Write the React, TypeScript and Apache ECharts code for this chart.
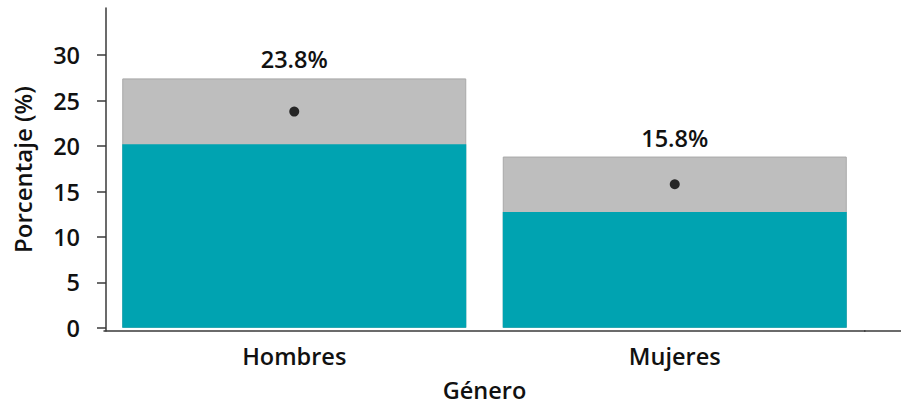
import React, { useEffect, useRef } from "react";
import * as echarts from "echarts";

const categories = ["Hombres", "Mujeres"];
const lowerValues = [20.2, 12.75];
const upperValues = [27.45, 18.85];
const estimates = [23.8, 15.8];
const yTicks = [0, 5, 10, 15, 20, 25, 30];

const FONT = "'Open Sans', 'Noto Sans', sans-serif";
const GRID_LEFT = 104;
const GRID_RIGHT = 36;
const GRID_TOP = 8;
const GRID_BOTTOM = 76;
const W = 901;
const H = 407;
const FS = 23.5;

export default function App() {
  const ref = useRef<HTMLDivElement>(null);
  useEffect(() => {
    if (!ref.current) return;
    const chart = echarts.init(ref.current, null, { renderer: "svg", width: W, height: H });
    const axisColor = "#3a3a3a";
    const textColor = "#111111";
    chart.setOption({
      animation: false,
      backgroundColor: "#ffffff",
      grid: {
        left: GRID_LEFT,
        right: GRID_RIGHT,
        top: GRID_TOP,
        bottom: GRID_BOTTOM,
        containLabel: false,
        outerBoundsMode: "none",
      },
      xAxis: {
        type: "category",
        data: categories,
        name: "Género",
        nameLocation: "middle",
        nameGap: 48,
        nameTextStyle: { fontFamily: FONT, fontSize: 23.5, lineHeight: 22, fontWeight: 600, color: textColor },
        axisLine: { show: true, onZero: false, lineStyle: { color: axisColor, width: 1.5 } },
        axisTick: { show: false },
        axisLabel: { fontFamily: FONT, fontSize: FS, fontWeight: 600, color: textColor, margin: 13 },
        splitLine: { show: false },
      },
      yAxis: {
        type: "value",
        min: -0.35,
        max: 35.2,
        offset: -2,
        name: "Porcentaje (%)",
        nameLocation: "middle",
        nameGap: 72,
        nameTextStyle: { fontFamily: FONT, fontSize: 24, fontWeight: 600, color: textColor },
        axisLine: { show: true, lineStyle: { color: axisColor, width: 1.5 } },
        axisTick: { show: true, length: 9, customValues: yTicks, lineStyle: { color: axisColor, width: 1.5 } },
        axisLabel: { fontFamily: FONT, fontSize: FS, fontWeight: 600, color: textColor, margin: 26, customValues: yTicks },
        splitLine: { show: false },
      },
      series: [
        {
          type: "bar",
          data: upperValues,
          barWidth: 344,
          barGap: "-100%",
          itemStyle: { color: "#bebebe", borderColor: "#a8a8a8", borderWidth: 1 },
          label: {
            show: true,
            position: "top",
            distance: 7,
            formatter: (p: any) => `${estimates[p.dataIndex].toFixed(1)}%`,
            fontFamily: FONT,
            fontSize: FS,
            fontWeight: 600,
            color: textColor,
          },
          z: 2,
        },
        {
          type: "bar",
          data: lowerValues,
          barWidth: 344,
          barGap: "-100%",
          itemStyle: { color: "#00a3b1" },
          z: 3,
        },
        {
          type: "scatter",
          data: estimates,
          symbol: "circle",
          symbolSize: 10,
          itemStyle: { color: "#000000" },
          z: 5,
        },
      ],
      graphic: [
        {
          type: "line",
          shape: { x1: W - GRID_RIGHT - 1, y1: H - GRID_BOTTOM, x2: W, y2: H - GRID_BOTTOM },
          style: { stroke: axisColor, lineWidth: 1.5 },
          z: 10,
        },
      ],
    });
    return () => chart.dispose();
  }, []);
  return (
    <div
      ref={ref}
      style={{ position: "fixed", left: 0, top: 0, width: W, height: H, background: "#fff" }}
    />
  );
}
